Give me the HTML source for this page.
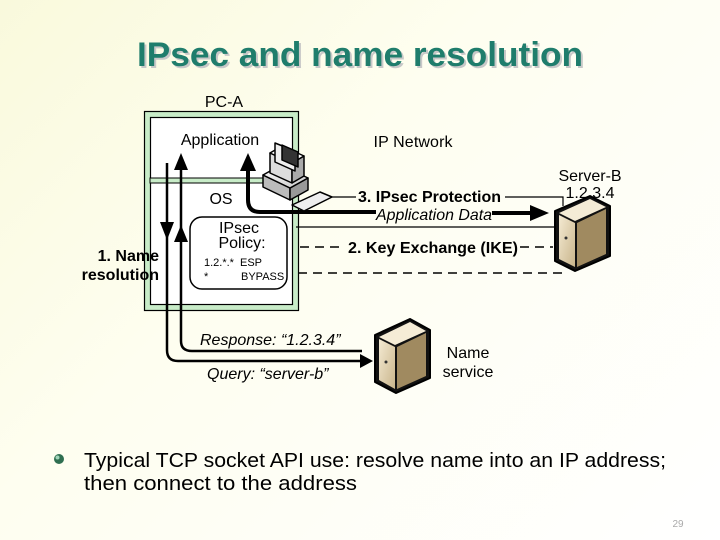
<!DOCTYPE html>
<html><head><meta charset="utf-8"><style>
html,body{margin:0;padding:0;width:720px;height:540px;overflow:hidden}
body{background:linear-gradient(135deg,#f9f9dc 0%,#fefef0 40%,#ffffff 100%)}
svg{display:block}
text{font-family:"Liberation Sans",sans-serif}
</style></head><body>
<svg width="720" height="540" viewBox="0 0 720 540" xmlns="http://www.w3.org/2000/svg">
<defs>
<linearGradient id="srv" x1="0" y1="0" x2="1" y2="1"><stop offset="0" stop-color="#f4ead2"/><stop offset="1" stop-color="#c9b58c"/></linearGradient>
<linearGradient id="pc" x1="0" y1="0" x2="1" y2="1"><stop offset="0" stop-color="#ffffff"/><stop offset="1" stop-color="#c8c8c8"/></linearGradient>
</defs>
<!-- title -->
<text x="362" y="68" font-size="34" font-weight="bold" fill="#c8c8c8" text-anchor="middle" textLength="446" lengthAdjust="spacingAndGlyphs">IPsec and name resolution</text>
<text x="360" y="66" font-size="34" font-weight="bold" fill="#1f7d6c" text-anchor="middle" textLength="446" lengthAdjust="spacingAndGlyphs">IPsec and name resolution</text>

<!-- PC-A box -->
<text x="224" y="107" font-size="16" text-anchor="middle">PC-A</text>
<rect x="147" y="114" width="149" height="194" fill="none" stroke="#c8ecc8" stroke-width="6"/>
<rect x="144.5" y="111.5" width="154" height="199" fill="none" stroke="#000" stroke-width="1.2"/>
<rect x="150.5" y="117.5" width="142" height="187" fill="#fff" stroke="#000" stroke-width="1.2"/>
<rect x="150" y="178" width="143" height="5" fill="#c8ecc8" stroke="#000" stroke-width="1"/>
<text x="220" y="145" font-size="16" text-anchor="middle">Application</text>
<text x="221" y="204" font-size="16" text-anchor="middle">OS</text>
<rect x="190" y="217" width="97" height="72" rx="12" fill="#fff" stroke="#000" stroke-width="1.5"/>
<text x="239" y="233" font-size="16" text-anchor="middle">IPsec</text>
<text x="242" y="248" font-size="16" text-anchor="middle">Policy:</text>
<text x="204" y="266" font-size="11">1.2.*.*</text>
<text x="240" y="266" font-size="11">ESP</text>
<text x="204" y="280" font-size="11">*</text>
<text x="241" y="280" font-size="11">BYPASS</text>

<!-- name resolution arrows -->
<path d="M167 163 V350 Q167 361 178 361 H360" fill="none" stroke="#000" stroke-width="2.5"/>
<polygon points="160,222 174,222 167,240" fill="#000"/>
<polygon points="360,354 360,368 373,361" fill="#000"/>
<path d="M181 170 V341 Q181 351 192 351 H362" fill="none" stroke="#000" stroke-width="2.5"/>
<polygon points="174,170 188,170 181,153" fill="#000"/>
<polygon points="174,242 188,242 181,225" fill="#000"/>
<text x="159" y="261" font-size="16" font-weight="bold" text-anchor="end">1. Name</text>
<text x="159" y="280" font-size="16" font-weight="bold" text-anchor="end">resolution</text>
<text x="200" y="345" font-size="16" font-style="italic">Response: “1.2.3.4”</text>
<text x="207" y="379" font-size="16" font-style="italic">Query: “server-b”</text>

<!-- thick IPsec path -->
<path d="M248 170 V200 Q248 212 260 212 H376" fill="none" stroke="#000" stroke-width="4"/>
<polygon points="240,171 256,171 248,153" fill="#000"/>
<path d="M492 213 H532" stroke="#000" stroke-width="4"/>
<polygon points="530,205 530,221 549,213" fill="#000"/>
<text x="376" y="220" font-size="16" font-style="italic" textLength="116" lengthAdjust="spacingAndGlyphs">Application Data</text>
<path d="M330 197 H356 M505 197 H563 V206" fill="none" stroke="#000" stroke-width="1.2"/>
<text x="358" y="202" font-size="16" font-weight="bold" textLength="143" lengthAdjust="spacingAndGlyphs">3. IPsec Protection</text>
<path d="M296 227 H556" stroke="#000" stroke-width="1.2"/>
<path d="M300 247 H345 M520 247 H553" stroke="#000" stroke-width="1.5" stroke-dasharray="9,6"/>
<text x="348" y="253" font-size="16" font-weight="bold" textLength="170" lengthAdjust="spacingAndGlyphs">2. Key Exchange (IKE)</text>
<path d="M298 273 H565" stroke="#000" stroke-width="1.5" stroke-dasharray="9,6"/>
<text x="413" y="147" font-size="16" text-anchor="middle" textLength="79">IP Network</text>
<text x="590" y="181" font-size="16" text-anchor="middle">Server-B</text>
<text x="590" y="198" font-size="16" text-anchor="middle">1.2.3.4</text>

<!-- PC icon -->
<g stroke="#000" stroke-width="1.5" stroke-linejoin="round">
<polygon points="263,175 290,188 290,200 263,187" fill="#bbb"/>
<polygon points="290,188 308,178 308,190 290,200" fill="#999"/>
<polygon points="263,175 281,165 308,178 290,188" fill="url(#pc)"/>
<polygon points="270,153 292,163 292,183 270,173" fill="#ddd"/>
<polygon points="292,163 304,156 304,176 292,183" fill="#aaa"/>
<polygon points="270,153 282,146 304,156 292,163" fill="#fff"/>
<polygon points="275,143 295,151 295,171 275,162" fill="#eee"/>
<polygon points="282,145 298,152 298,167 282,160" fill="#333"/>
<polygon points="292,205 320,192 332,197 304,211" fill="#eee"/>
</g>
<!-- Server B -->
<g transform="translate(0,6)">
<g stroke="#000" stroke-width="2" stroke-linejoin="round">
<polygon points="555,205 590,190 610,200 610,250 575,265 555,255" fill="#111"/>
<polygon points="559,207 590,193 606,201 575,215" fill="#f5ecd6" stroke-width="0"/>
<polygon points="559,209 575,217 575,261 559,253" fill="url(#srv)" stroke-width="0"/>
<polygon points="577,217 606,203 606,248 577,261" fill="#a08a60" stroke-width="0"/>
</g>
<circle cx="566" cy="232" r="1.5" fill="#333"/>
</g>
<!-- Name server -->
<g stroke="#000" stroke-width="2" stroke-linejoin="round">
<polygon points="375,335 410,319 430,330 430,378 396,393 375,382" fill="#111"/>
<polygon points="379,337 410,322 426,331 395,345" fill="#f5ecd6" stroke-width="0"/>
<polygon points="379,339 395,347 395,389 379,380" fill="url(#srv)" stroke-width="0"/>
<polygon points="397,347 426,333 426,376 397,389" fill="#a08a60" stroke-width="0"/>
</g>
<circle cx="386" cy="362" r="1.5" fill="#333"/>
<text x="468" y="358" font-size="16" text-anchor="middle">Name</text>
<text x="468" y="377" font-size="16" text-anchor="middle">service</text>

<!-- bullet -->
<circle cx="59" cy="459" r="5" fill="#2f6f50"/>
<circle cx="57.5" cy="457.5" r="2" fill="#9fd4b8"/>
<text x="84" y="467" font-size="20" textLength="582" lengthAdjust="spacingAndGlyphs">Typical TCP socket API use: resolve name into an IP address;</text>
<text x="84" y="490" font-size="20" textLength="273" lengthAdjust="spacingAndGlyphs">then connect to the address</text>
<text x="678" y="527" font-size="10" fill="#aaa" text-anchor="middle">29</text>
</svg>
</body></html>
